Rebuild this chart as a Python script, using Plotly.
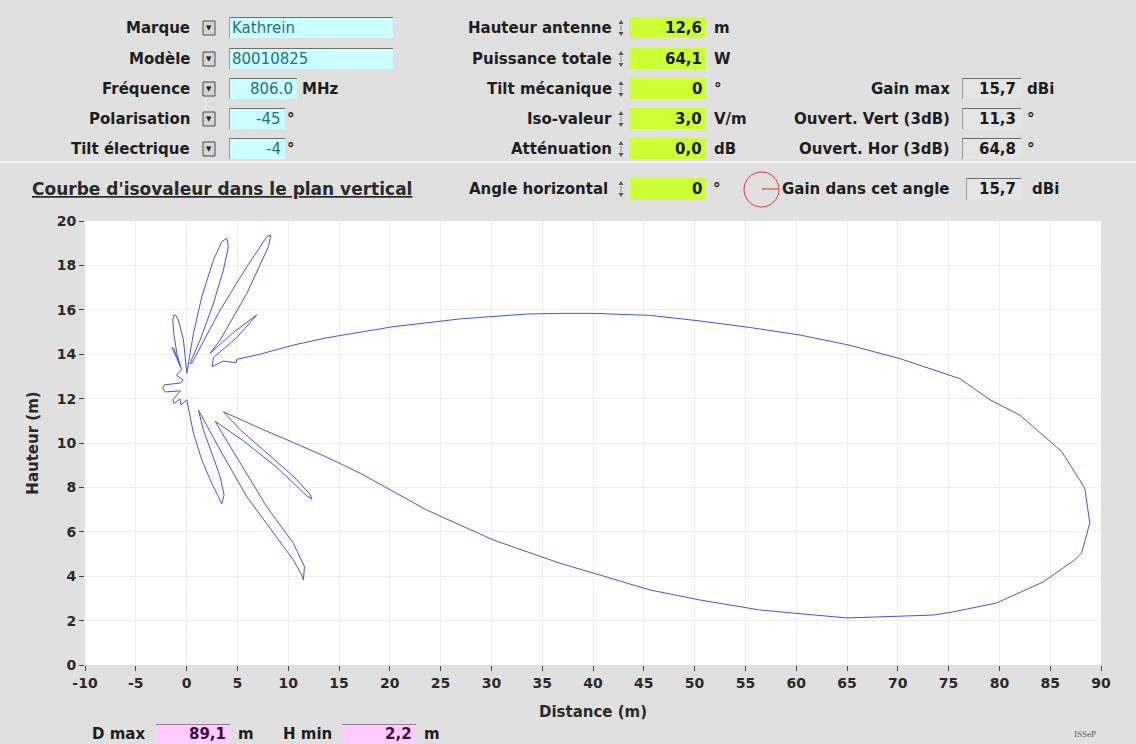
import plotly.graph_objects as go

# ---------------- data ----------------
# iso-value curve (3 V/m) in the vertical plane, antenna at 12.6 m
distance_m = [
    0.02, 0.67, 1.5, 2.48, 3.13, 3.46, 3.69, 3.30, 2.48, 1.65, 1.16,
    3.30, 5.93, 8.54, 10.51, 11.34, 11.5, 11.6, 10.51, 7.89, 5.27, 3.30, 2.81,
    5.59, 8.88, 11.83, 12.32, 12.16, 10.51, 7.23, 5.27, 3.62,
    7.23, 10.51, 13.80, 17.08, 23.64, 30.2, 36.76, 40.7, 45.6, 50.5, 56.4,
    59.7, 65.0, 67.6, 73.5, 75.4, 79.7, 84.3, 87.4, 88.1, 88.9, 88.4, 86.14,
    82.0, 79.1, 76.1, 70.2, 65.3, 60.4, 55.5, 50.5, 45.6, 40.0, 36.76, 33.48,
    26.92, 20.35, 13.80, 10.51, 7.23, 4.94, 4.87, 3.62, 2.50,
    2.65, 4.94, 6.91, 4.6, 2.31,
    3.30, 5.93, 8.05, 8.29, 7.89, 5.93, 3.30, 0.51,
    0.34, 1.33, 2.64, 3.62, 4.11, 3.96, 3.46, 2.64, 1.5, 0.67, 0.02,
    -0.31, -0.81, -1.05, -1.23, -1.36, -1.25, -0.96, -0.6,
    -1.45, -1.25, -0.5, -1.0, -0.35, -0.6, -2.2, -2.35, -2.1, -0.6, -1.0,
    -1.35, -1.25, -0.65, -0.55, -0.2, 0.02,
]
height_m = [
    11.94, 10.44, 9.23, 8.18, 7.58, 7.25, 7.66, 8.48, 9.54, 10.59, 11.49,
    9.68, 7.58, 5.93, 4.73, 4.05, 3.83, 4.43, 5.48, 7.13, 9.08, 10.59, 10.98,
    10.1, 8.9, 7.62, 7.48, 7.68, 8.5, 9.79, 10.6, 11.41,
    10.66, 10.02, 9.36, 8.64, 6.98, 5.63, 4.58, 4.05, 3.38, 2.93, 2.48,
    2.34, 2.12, 2.16, 2.25, 2.39, 2.79, 3.74, 4.73, 5.05, 6.40, 7.97, 9.61,
    11.26, 11.94, 12.9, 13.8, 14.4, 14.86, 15.2, 15.5, 15.75, 15.84, 15.84, 15.81,
    15.59, 15.24, 14.74, 14.41, 14.0, 13.77, 13.62, 13.69, 13.44,
    13.85, 14.75, 15.77, 14.98, 14.04,
    14.64, 16.74, 18.84, 19.37, 19.29, 17.94, 15.99, 13.59,
    13.59, 14.64, 16.29, 17.79, 18.84, 19.22, 19.07, 18.24, 16.59, 14.94, 13.14,
    14.64, 15.54, 15.75, 15.77, 15.54, 14.9, 14.04, 13.45,
    14.3, 14.25, 13.3, 13.05, 12.85, 12.7, 12.62, 12.45, 12.3, 12.35, 12.12,
    11.95, 11.78, 11.98, 11.72, 11.85, 11.94,
]

x_ticks = list(range(-10, 95, 5))
y_ticks = list(range(0, 22, 2))
x_ticktext = [str(v) for v in x_ticks]   # plain hyphen minus, as in the original
y_ticktext = [str(v) for v in y_ticks]

# panel texts / values
col1_labels = ["Marque", "Modèle", "Fréquence", "Polarisation", "Tilt électrique"]
col1_values = ["Kathrein", "80010825", "806.0", "-45", "-4"]
col1_units = ["", "", "MHz", "°", "°"]
col2_labels = ["Hauteur antenne", "Puissance totale", "Tilt mécanique", "Iso-valeur", "Atténuation"]
col2_values = ["12,6", "64,1", "0", "3,0", "0,0"]
col2_units = ["m", "W", "°", "V/m", "dB"]
col3_labels = ["Gain max", "Ouvert. Vert (3dB)", "Ouvert. Hor (3dB)"]
col3_values = ["15,7", "11,3", "64,8"]
col3_units = ["dBi", "°", "°"]
angle_h = "0"
gain_angle = "15,7"
d_max = "89,1"
h_min = "2,2"

# ---------------- layout geometry (pixels) ----------------
W, H = 1136, 744
L, R, T, B = 85, 35, 221, 79
PW = W - L - R
PH = H - T - B
FONT = "DejaVu Sans, Verdana, sans-serif"
FS = 15


def px(x):
    return (x - L) / PW


def py(y):
    return (H - B - y) / PH


shapes = []
anns = []


def rect(x0, y0, x1, y1, fill, line=None, lw=1):
    shapes.append(dict(type="rect", xref="paper", yref="paper",
                       x0=px(x0), x1=px(x1), y0=py(y1), y1=py(y0),
                       fillcolor=fill,
                       line=dict(width=lw if line else 0, color=line or fill)))


def hline(x0, x1, y, color, lw=1):
    shapes.append(dict(type="line", xref="paper", yref="paper",
                       x0=px(x0), x1=px(x1), y0=py(y), y1=py(y),
                       line=dict(width=lw, color=color)))


def vline(x, y0, y1, color, lw=1):
    shapes.append(dict(type="line", xref="paper", yref="paper",
                       x0=px(x), x1=px(x), y0=py(y0), y1=py(y1),
                       line=dict(width=lw, color=color)))


def sunken(x0, y0, x1, y1, fill):
    rect(x0, y0, x1, y1, fill)
    hline(x0, x1, y0 + 0.5, "#6e6e6e")
    vline(x0 + 0.5, y0, y1, "#9a9a9a")


def text(x, y, s, anchor="right", size=FS, bold=True, color="#1e1e1e", family=FONT):
    anns.append(dict(x=px(x), y=py(y), xref="paper", yref="paper",
                     text=("<b>%s</b>" % s) if bold else s, showarrow=False,
                     xanchor=anchor, yanchor="middle", borderpad=0,
                     font=dict(size=size, color=color, family=family)))


def spinner(x, y):
    shapes.append(dict(type="path", xref="paper", yref="paper",
                       path="M %f %f L %f %f L %f %f Z" % (px(x - 2.5), py(y - 4), px(x + 2.5), py(y - 4), px(x), py(y - 8)),
                       fillcolor="#555", line=dict(width=0)))
    shapes.append(dict(type="path", xref="paper", yref="paper",
                       path="M %f %f L %f %f L %f %f Z" % (px(x - 2.5), py(y + 4), px(x + 2.5), py(y + 4), px(x), py(y + 8)),
                       fillcolor="#555", line=dict(width=0)))
    vline(x, y - 3, y + 3, "#888")


def dropdown(x0, y):
    rect(x0, y - 7, x0 + 12, y + 7, "#d6d6d6", "#4a4a4a")
    text(x0 + 6, y, "▼", anchor="center", size=7, bold=False, color="#222")


rows = [28, 59, 89, 119, 149]

# separator between input panel and chart
hline(0, W, 162, "#f6f6f6", 2)

# column 1
c1_box_right = [393, 393, 297, 285, 285]
for i, r in enumerate(rows):
    text(191, r, col1_labels[i])
    dropdown(203, r)
    sunken(229, r - 11, c1_box_right[i], r + 10, "#ccffff")
    if i < 2:
        text(231, r, col1_values[i], anchor="left", bold=False, color="#2a6f7c")
    else:
        text(c1_box_right[i] - 3, r, col1_values[i], anchor="right", bold=False, color="#2a6f7c")
    if col1_units[i]:
        text(c1_box_right[i] + (4 if i == 2 else 1), r, col1_units[i], anchor="left")

# column 2
for i, r in enumerate(rows):
    text(613, r, col2_labels[i])
    spinner(621, r)
    rect(629, r - 11, 706, r + 10, "#ccff33")
    text(703, r, col2_values[i], color="#1a1a1a")
    text(713, r, col2_units[i], anchor="left")

# column 3
for i, r in enumerate(rows[2:]):
    text(951, r, col3_labels[i])
    sunken(962, r - 11, 1021, r + 10, "#e4e4e4")
    text(1017, r, col3_values[i], color="#1a1a1a")
    text(1026, r, col3_units[i], anchor="left")

# chart header row
hr = 189
text(31, hr, "<u>Courbe d'isovaleur dans le plan vertical</u>", anchor="left", size=17, color="#2a2a2a")
text(609, hr, "Angle horizontal")
spinner(621, hr)
rect(630, hr - 11, 706, hr + 11, "#ccff33")
text(703, hr, angle_h, color="#1a1a1a")
text(712, hr, "°", anchor="left")
shapes.append(dict(type="circle", xref="paper", yref="paper",
                   x0=px(744), x1=px(779), y0=py(207), y1=py(172),
                   line=dict(color="#e03535", width=1)))
hline(762, 779, hr, "#e03535")
text(781, hr, "Gain dans cet angle", anchor="left")
sunken(966, hr - 11, 1021, hr + 11, "#e4e4e4")
text(1017, hr, gain_angle, color="#1a1a1a")
text(1031, hr, "dBi", anchor="left")

# bottom row
br = 734
text(146, br, "D max")
rect(156, br - 10, 230, br + 12, "#ffccff")
hline(156, 230, br - 9.5, "#9a7a9a")
text(227, br, d_max, color="#3a1040")
text(237, br, "m", anchor="left")
text(333, br, "H min")
rect(342, br - 10, 416, br + 12, "#ffccff")
hline(342, 416, br - 9.5, "#9a7a9a")
text(413, br, h_min, color="#3a1040")
text(423, br, "m", anchor="left")
text(1085, br, "ISSeP", anchor="center", size=9, bold=False, color="#555",
     family="Liberation Serif, DejaVu Serif, serif")

# dotted vertical line at distance 0 (antenna mast)
shapes.append(dict(type="line", xref="x", yref="paper", x0=0, x1=0, y0=0, y1=1,
                   line=dict(color="#b4b4b4", width=1, dash="dot"), layer="below"))

fig = go.Figure()
fig.add_trace(go.Scatter(x=distance_m, y=height_m, mode="lines",
                         line=dict(color="#4455d6", width=1),
                         hoverinfo="skip", showlegend=False))

fig.update_layout(
    width=W, height=H,
    margin=dict(l=L, r=R, t=T, b=B, pad=0),
    paper_bgcolor="#e0e0e0",
    plot_bgcolor="#ffffff",
    shapes=shapes,
    annotations=anns,
    font=dict(family=FONT, color="#222"),
    showlegend=False,
)
fig.update_xaxes(range=[-10, 90], tickmode="array", tickvals=x_ticks, ticktext=x_ticktext,
                 ticks="outside", ticklen=5, tickcolor="#444",
                 tickfont=dict(size=14, color="#2a2a2a", weight="bold"),
                 showgrid=True, gridcolor="#ececec", gridwidth=1,
                 zeroline=False, showline=False,
                 title=dict(text="<b>Distance (m)</b>", font=dict(size=15, color="#2a2a2a"), standoff=16))
fig.update_yaxes(range=[0, 20], tickmode="array", tickvals=y_ticks, ticktext=y_ticktext,
                 ticks="outside", ticklen=5, tickcolor="#444",
                 tickfont=dict(size=14, color="#2a2a2a", weight="bold"),
                 showgrid=True, gridcolor="#ececec", gridwidth=1,
                 zeroline=False, showline=False,
                 title=dict(text="<b>Hauteur (m)</b>", font=dict(size=15, color="#2a2a2a"), standoff=14))

fig.write_html("out.html", config={"displayModeBar": False},
               post_script="document.body.style.margin='0';document.body.style.overflow='hidden';")
